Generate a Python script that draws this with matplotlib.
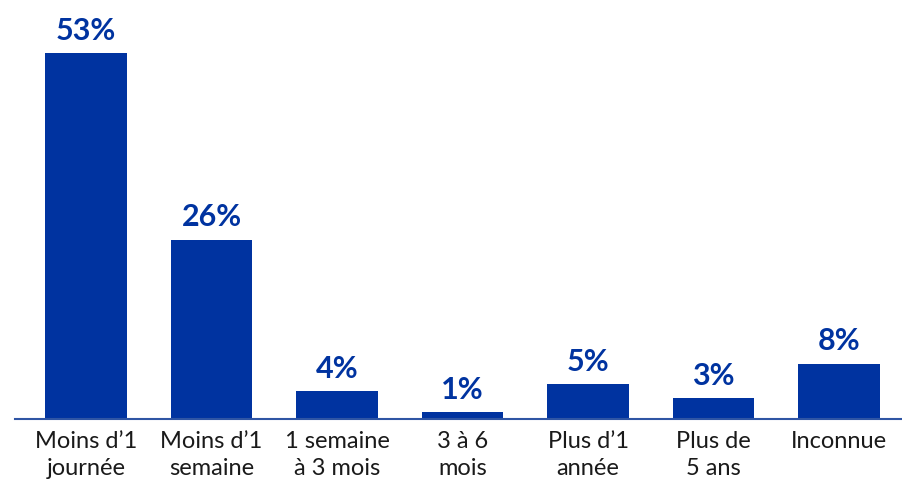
import matplotlib.pyplot as plt

categories = ["Moins d\u20191\njourn\u00e9e", "Moins d\u20191\nsemaine", "1 semaine\n\u00e0 3 mois",
              "3 \u00e0 6\nmois", "Plus d\u20191\nann\u00e9e", "Plus de\n5 ans", "Inconnue"]
values = [53, 26, 4, 1, 5, 3, 8]
labels = ["53%", "26%", "4%", "1%", "5%", "3%", "8%"]

bar_color = "#0033A0"

fig = plt.figure(figsize=(9.02, 4.84), dpi=100)
ax = fig.add_axes([15 / 902, 65 / 484, 887 / 902, 419 / 484])

x = range(len(values))
bars = ax.bar(x, values, width=0.65, color=bar_color)

for b, lab in zip(bars, labels):
    ax.annotate(lab, (b.get_x() + b.get_width() / 2, b.get_height()),
                xytext=(0, 6), textcoords="offset points",
                ha="center", va="bottom", fontsize=22, fontweight="bold",
                color=bar_color, family="Lato")

ax.set_xlim(-0.566, 6.502)
ax.set_ylim(0, 60.7)
ax.set_xticks(list(x))
ax.set_xticklabels(categories, fontsize=17, family="Lato", color="#1a1a1a",
                   linespacing=1.35)
ax.tick_params(axis="x", length=0, pad=9)
ax.set_yticks([])
for s in ["top", "right", "left"]:
    ax.spines[s].set_visible(False)
ax.spines["bottom"].set_color("#2F55A4")
ax.spines["bottom"].set_linewidth(1.5)

fig.savefig("out.png", dpi=100)
